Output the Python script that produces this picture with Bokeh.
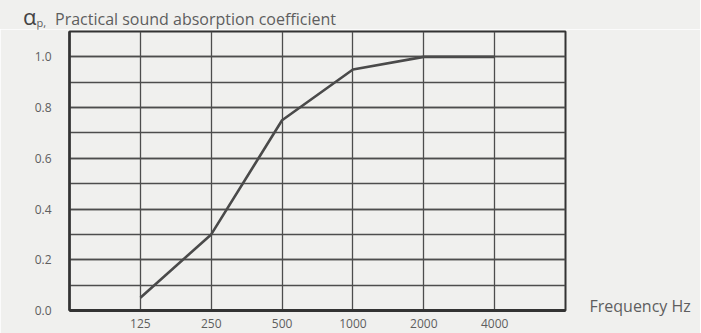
from bokeh.plotting import figure
from bokeh.models import (ColumnDataSource, FixedTicker, SingleIntervalTicker,
                          LinearAxis, Range1d, Div)
from bokeh.layouts import column
from bokeh.embed import file_html
from bokeh.resources import INLINE

# ---- data ----
freq_labels = ["125", "250", "500", "1000", "2000", "4000"]
alpha_p = [0.05, 0.30, 0.75, 0.95, 1.00, 1.00]
y_ticks = [0.0, 0.2, 0.4, 0.6, 0.8, 1.0]
title_text = "Practical sound absorption coefficient"
x_title = "Frequency Hz"

BG = "#f0f0ee"
TXT = "#5e5e5e"
DARK = "#333333"
GRID = "#4d4d4d"
FONT = "Open Sans"
XTITLE_RAISE = 0.016  # small lift of the "Frequency Hz" label (layout only)

xpos = list(range(1, len(freq_labels) + 1))
src = ColumnDataSource(dict(x=xpos, y=alpha_p))

title = Div(
    text=(f'<div style="padding:6px 0 0 23px;font-family:\'{FONT}\';'
          f'font-size:16px;color:{TXT};line-height:20px;white-space:nowrap;">'
          f'<span style="font-size:22px;color:#444444;">α</span>'
          f'<span style="font-size:11px;position:relative;top:2px;">p,</span>'
          f'<span style="margin-left:9px;">{title_text}</span></div>'),
    width=700, height=29, margin=0,
    styles={"background-color": BG, "font-family": FONT})

p = figure(width=700, height=304, output_backend="svg", toolbar_location=None,
           x_range=Range1d(0, len(freq_labels) + 1), y_range=Range1d(0, 1.1),
           min_border_left=69, min_border_right=135, min_border_top=2,
           min_border_bottom=23, margin=0)
p.background_fill_color = BG
p.border_fill_color = BG
p.outline_line_color = DARK
p.outline_line_width = 2

# grid
p.xgrid.ticker = FixedTicker(ticks=xpos)
p.xgrid.grid_line_color = GRID
p.xgrid.grid_line_width = 1.3
p.yaxis.ticker = SingleIntervalTicker(interval=0.2, num_minor_ticks=2)
p.ygrid.grid_line_color = GRID
p.ygrid.grid_line_width = 1.3
p.ygrid.minor_grid_line_color = GRID
p.ygrid.minor_grid_line_width = 1.3

# axes
p.xaxis.ticker = FixedTicker(ticks=xpos)
p.xaxis.major_label_overrides = {x: l for x, l in zip(xpos, freq_labels)}
p.yaxis.major_label_overrides = {v: f"{v:.1f}" for v in y_ticks}
for ax in (p.xaxis, p.yaxis):
    ax.major_tick_line_color = None
    ax.minor_tick_line_color = None
    ax.axis_line_color = DARK
    ax.major_label_text_color = TXT
    ax.major_label_text_font = FONT
    ax.major_label_text_font_size = "12px"
p.xaxis.axis_line_width = 3
p.yaxis.axis_line_width = 2.5
p.xaxis.major_label_standoff = 2
p.yaxis.major_label_standoff = 12

# "Frequency Hz" as a label on a right-hand axis, level with the x axis
raxis = LinearAxis(ticker=FixedTicker(ticks=[XTITLE_RAISE]),
                   major_label_overrides={XTITLE_RAISE: x_title},
                   axis_line_color=None, major_tick_line_color=None,
                   minor_tick_line_color=None, major_label_standoff=18,
                   major_label_text_font=FONT,
                   major_label_text_font_size="16px",
                   major_label_text_color=TXT)
p.add_layout(raxis, "right")

# data line
p.line("x", "y", source=src, line_color="#4a4a4a", line_width=2.6)

layout = column(title, p, spacing=0)
html = file_html(layout, INLINE)
html = html.replace("<body>", f'<body style="background-color:{BG};">', 1)
open("out.html", "w").write(html)
